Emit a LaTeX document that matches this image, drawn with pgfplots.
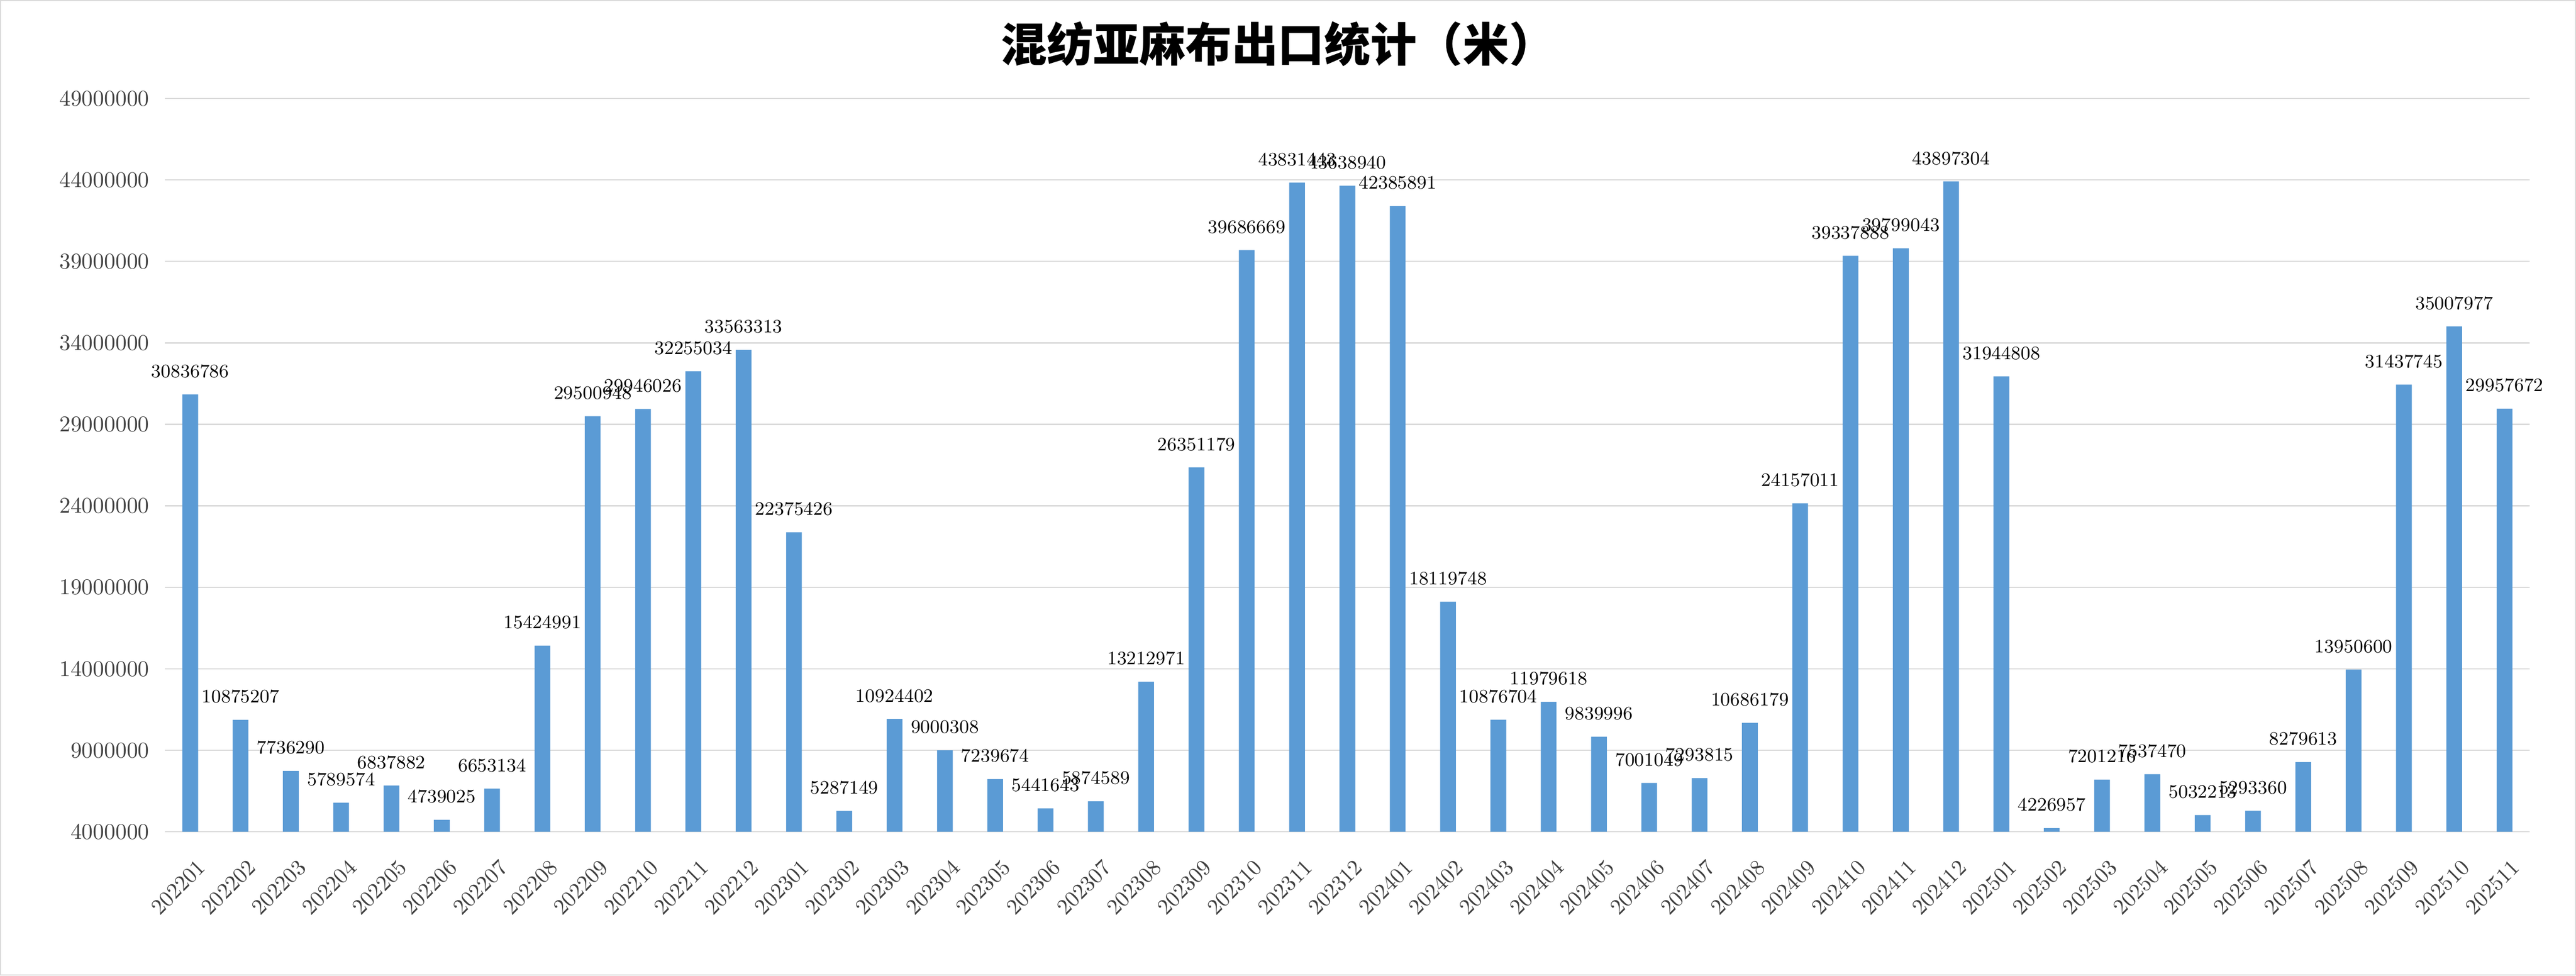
\documentclass[border=0pt]{standalone}
\usepackage{pgfplots}
\pgfplotsset{compat=1.18}
\usepackage{pgfplotstable}
\usepackage{fontspec}
\newfontfamily\cjk{Noto Sans CJK SC}
\definecolor{barblue}{HTML}{5B9BD5}
\definecolor{gridgray}{HTML}{D9D9D9}
\definecolor{tickgray}{HTML}{404040}
\pgfplotstableread{
x y lab
0 30836786 30836786
1 10875207 10875207
2 7736290 7736290
3 5789574 5789574
4 6837882 6837882
5 4739025 4739025
6 6653134 6653134
7 15424991 15424991
8 29500948 29500948
9 29946026 29946026
10 32255034 32255034
11 33563313 33563313
12 22375426 22375426
13 5287149 5287149
14 10924402 10924402
15 9000308 9000308
16 7239674 7239674
17 5441643 5441643
18 5874589 5874589
19 13212971 13212971
20 26351179 26351179
21 39686669 39686669
22 43831443 43831443
23 43638940 43638940
24 42385891 42385891
25 18119748 18119748
26 10876704 10876704
27 11979618 11979618
28 9839996 9839996
29 7001049 7001049
30 7293815 7293815
31 10686179 10686179
32 24157011 24157011
33 39337888 39337888
34 39799043 39799043
35 43897304 43897304
36 31944808 31944808
37 4226957 4226957
38 7201216 7201216
39 7537470 7537470
40 5032213 5032213
41 5293360 5293360
42 8279613 8279613
43 13950600 13950600
44 31437745 31437745
45 35007977 35007977
46 29957672 29957672
}\data
\begin{document}
\begin{tikzpicture}
\useasboundingbox (-78.6pt,-68.4pt) rectangle (1148pt,396pt);
\begin{axis}[
  at={(0,0)}, anchor=south west,
  scale only axis, width=1126pt, height=349.2pt,
  xmin=-0.5, xmax=46.5, ymin=4000000, ymax=49000000,
  ybar, bar width=7.5pt,
  axis line style={draw=none},
  major tick length=0pt,
  ymajorgrids, grid style={gridgray, line width=0.6pt},
  ytick={4000000,9000000,14000000,19000000,24000000,29000000,34000000,39000000,44000000,49000000},
  yticklabels={4000000,9000000,14000000,19000000,24000000,29000000,34000000,39000000,44000000,49000000},
  scaled y ticks=false,
  yticklabel style={font=\fontsize{10.7}{12}\selectfont, text=tickgray, xshift=-4pt},
  xtick={0,...,46},
  xticklabels={202201,202202,202203,202204,202205,202206,202207,202208,202209,202210,202211,202212,202301,202302,202303,202304,202305,202306,202307,202308,202309,202310,202311,202312,202401,202402,202403,202404,202405,202406,202407,202408,202409,202410,202411,202412,202501,202502,202503,202504,202505,202506,202507,202508,202509,202510,202511},
  xticklabel style={rotate=45, anchor=north east, font=\fontsize{10.5}{12}\selectfont, text=tickgray, xshift=-3.5pt, yshift=-7.5pt},
  nodes near coords, point meta=explicit symbolic,
  every node near coord/.append style={font=\fontsize{9}{10}\selectfont, text=black, yshift=4.4pt},
]
\addplot[fill=barblue, draw=none] table[x=x,y=y,meta=lab]{\data};
\end{axis}
\node[font=\cjk\bfseries\fontsize{22}{26}\selectfont] at (530pt,375pt) {混纺亚麻布出口统计（米）};
\draw[gridgray, line width=0.6pt] (-78.3pt,-68.1pt) rectangle (1147.7pt,395.7pt);
\end{tikzpicture}
\end{document}
